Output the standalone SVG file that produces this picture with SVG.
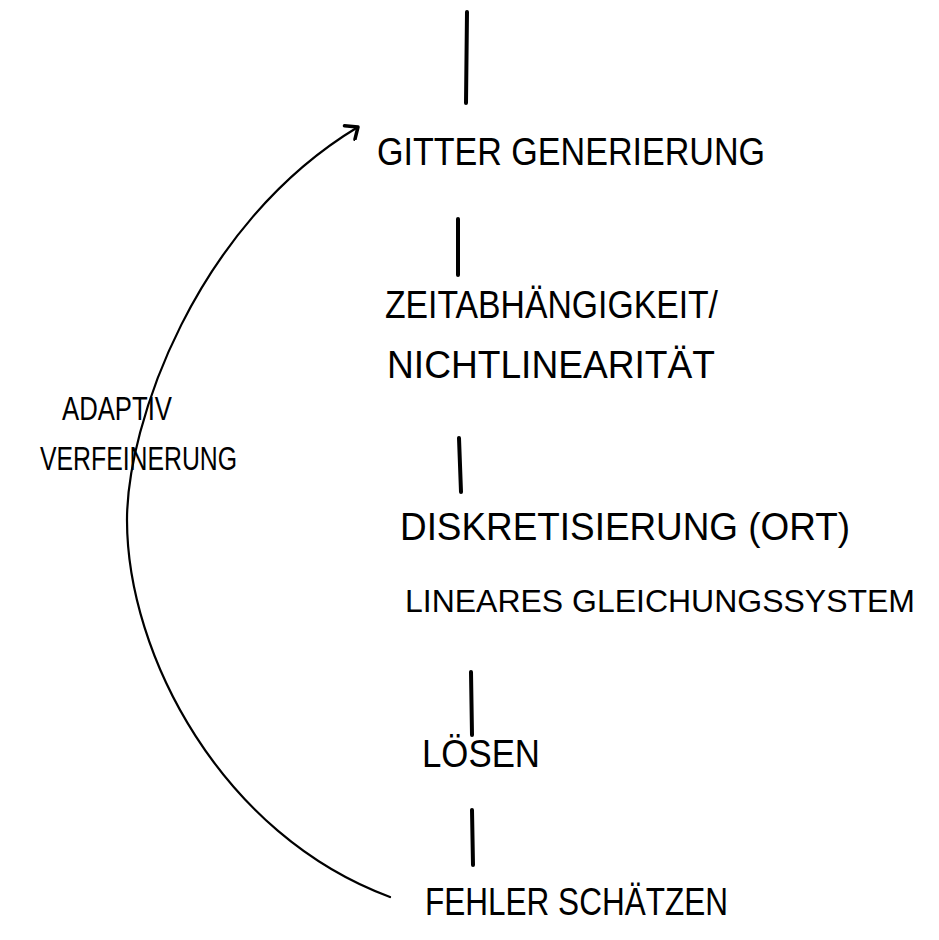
<svg xmlns="http://www.w3.org/2000/svg" width="939" height="940" viewBox="0 0 939 940">
  <style>
    .lbl { font-family: "Liberation Sans", "DejaVu Sans", sans-serif; font-size: 38px; fill: #000; }
    .wide { font-family: "Liberation Sans", "DejaVu Sans", sans-serif; font-size: 32px; fill: #000; }
    .side { font-family: "Liberation Sans", "DejaVu Sans", sans-serif; font-size: 34px; fill: #000; }
    .tick { stroke: #000; stroke-width: 4; stroke-linecap: round; fill: none; }
    .loop { stroke: #000; stroke-width: 2.2; fill: none; stroke-linecap: round; }
  </style>
  <defs>
    <marker id="arrow" viewBox="-14 -10 18 20" markerWidth="18" markerHeight="20" refX="0" refY="0" orient="auto" markerUnits="userSpaceOnUse">
      <path d="M -11 -8 L 0 0 L -9 9" fill="none" stroke="#000" stroke-width="3.5" stroke-linecap="round" stroke-linejoin="round"/>
    </marker>
  </defs>
  <rect width="939" height="940" fill="#fff"/>

  <g id="connectors">
    <line class="tick" x1="467" y1="12" x2="466" y2="103"/>
    <line class="tick" x1="458" y1="219" x2="458" y2="275"/>
    <line class="tick" x1="459" y1="438" x2="461" y2="492"/>
    <line class="tick" x1="471" y1="672" x2="472" y2="735"/>
    <line class="tick" x1="472" y1="810" x2="473" y2="865"/>
    <path class="loop" marker-end="url(#arrow)" d="M 390 897 C 222 835 127 655 127 520 C 127 425 195 225 358 127"/>
  </g>

  <g id="gitter-generierung">
    <text class="lbl" x="377" y="165" textLength="388" lengthAdjust="spacingAndGlyphs">GITTER GENERIERUNG</text>
  </g>
  <g id="zeitabhaengigkeit">
    <text class="lbl" x="385" y="318" textLength="333" lengthAdjust="spacingAndGlyphs">ZEITABHÄNGIGKEIT/</text>
    <text class="lbl" x="387" y="378" textLength="328" lengthAdjust="spacingAndGlyphs">NICHTLINEARITÄT</text>
  </g>
  <g id="diskretisierung">
    <text class="lbl" x="400" y="540" textLength="450" lengthAdjust="spacingAndGlyphs">DISKRETISIERUNG (ORT)</text>
    <text class="wide" x="405" y="612" textLength="510" lengthAdjust="spacingAndGlyphs">LINEARES GLEICHUNGSSYSTEM</text>
  </g>
  <g id="loesen">
    <text class="lbl" x="422" y="767" textLength="118" lengthAdjust="spacingAndGlyphs">LÖSEN</text>
  </g>
  <g id="fehler-schaetzen">
    <text class="lbl" x="425" y="915" textLength="303" lengthAdjust="spacingAndGlyphs">FEHLER SCHÄTZEN</text>
  </g>
  <g id="adaptiv-verfeinerung">
    <text class="side" x="62" y="420" textLength="110" lengthAdjust="spacingAndGlyphs">ADAPTIV</text>
    <text class="side" x="40" y="470" textLength="197" lengthAdjust="spacingAndGlyphs">VERFEINERUNG</text>
  </g>
</svg>
